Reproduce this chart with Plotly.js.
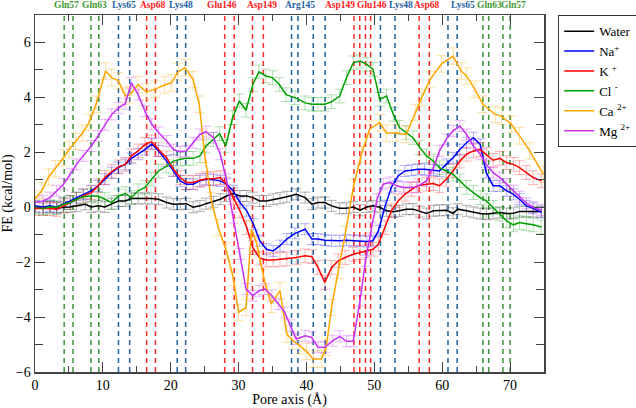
<!DOCTYPE html>
<html>
<head>
<meta charset="utf-8">
<script src="https://cdn.plot.ly/plotly-3.0.1.min.js"></script>
<style>html,body{margin:0;padding:0;background:#fff;}#chart{width:636px;height:408px;}</style>
</head>
<body>
<div id="chart"></div>
<script>
// ---- data ----
const seriesNames = ['Water', 'Na<sup>+</sup>', 'K <sup>+</sup>', 'Cl <sup>-</sup>', 'Ca <sup>2+</sup>', 'Mg <sup>2+</sup>'];

const xWater = [0,1.2,2.2,3.2,4.2,5.2,6.1,7.4,8.3,9.3,10.3,11.3,12.3,13.3,14.2,15.2,16.2,17.2,18.2,19.4,20.4,21.4,22.3,23.3,24.3,25.2,26.3,27.3,28.2,29.2,30.2,31.2,32.1,33.1,34.1,35.1,36.1,37.1,38.5,39.8,40.8,41.7,42.7,43.7,44.9,45.9,46.9,47.9,48.9,49.8,50.8,51.8,52.8,53.7,54.7,55.7,56.7,57.7,58.7,59.6,60.6,61.6,62.3,63.6,64.6,65.6,66.5,67.5,68.5,69.5,70.5,71.4,72.4,73.4,74.6];
const yWater = [0,-0.05,0.01,-0.04,0,0.01,0.05,0.11,0.01,0.05,0.01,0.13,0.23,0.23,0.32,0.32,0.32,0.32,0.29,0.17,0.11,0.11,0.13,0.0,0.05,0.13,0.2,0.29,0.41,0.5,0.41,0.41,0.35,0.23,0.23,0.29,0.33,0.38,0.47,0.35,0.11,0.17,0.17,0.05,-0.04,-0.04,0.01,-0.11,0.01,0.05,0,-0.13,-0.16,-0.13,-0.07,-0.07,-0.16,-0.23,-0.13,-0.11,-0.11,-0.22,-0.07,-0.13,-0.19,-0.23,-0.25,-0.23,-0.19,-0.23,-0.22,-0.16,-0.16,-0.16,-0.16];

const xNa = [0,1.2,2.2,3.2,4.2,5.2,6.1,7.1,8.3,9.3,10.3,11.3,12.3,13.3,14.2,15.2,16.2,17.2,18.2,19.4,20.4,21.4,22.3,23.3,24.3,25.2,26.3,27.3,28.2,29.2,30.2,31.2,32.2,33.1,34.1,35.1,36.1,37.1,38.3,39.8,40.8,41.7,42.7,43.7,44.9,45.9,46.9,47.9,48.9,49.8,50.6,51.6,52.5,53.5,54.5,55.5,56.4,57.4,58.7,59.6,60.6,61.6,62.6,63.6,64.6,65.6,66.5,67.5,68.5,69.5,70.5,71.4,72.4,73.4,74.6];
const yNa = [0.05,0.01,0.05,0.01,0.13,0.23,0.35,0.47,0.6,0.78,1.02,1.26,1.44,1.56,1.78,1.93,2.1,2.3,2.05,1.68,1.32,0.96,0.84,0.84,0.96,1.02,1.0,0.96,0.84,0.6,0.17,-0.13,-0.62,-1.22,-1.53,-1.59,-1.4,-1.16,-0.95,-0.8,-1.16,-1.16,-1.2,-1.22,-1.22,-1.2,-1.22,-1.22,-1.25,-1.22,-0.86,0.05,0.72,1.14,1.32,1.35,1.38,1.38,1.35,1.32,1.56,1.8,2.1,2.35,2.53,2.29,1.26,0.78,0.78,0.6,0.47,0.29,0.05,-0.04,-0.19];

const xK = [0,1.2,2.2,3.2,4.2,5.2,6.1,7.1,8.3,9.3,10.3,11.3,12.3,13.3,14.2,15.2,16.2,17.2,18.2,19.4,20.4,21.4,22.3,23.3,24.3,25.2,26.3,27.3,28.2,29.2,30.2,31.2,32.1,33.1,34.1,35.1,36.1,37.1,38.5,39.8,40.8,41.7,42.7,43.7,44.7,45.7,46.9,47.9,48.9,49.8,50.6,51.6,52.5,53.5,54.5,55.5,56.4,57.7,58.7,59.6,60.6,61.6,62.6,63.6,64.6,65.6,66.5,67.5,68.5,69.5,70.5,71.4,72.4,73.4,74.6];
const yK = [-0.05,-0.05,-0.05,-0.08,0.05,0.17,0.29,0.41,0.53,0.78,1.08,1.3,1.47,1.56,1.87,2.05,2.29,2.38,2.1,1.8,1.38,1.08,0.9,0.9,0.98,1.04,1.04,1.08,0.84,0.35,-0.13,-0.74,-1.47,-1.85,-1.92,-1.92,-1.9,-1.88,-1.83,-1.77,-1.8,-2.19,-2.74,-2.19,-1.95,-1.83,-1.71,-1.65,-1.59,-1.53,-1.35,-0.74,-0.13,0.23,0.47,0.65,0.78,0.84,0.86,0.78,1.02,1.32,1.68,1.93,2.05,2.1,1.93,1.71,1.78,1.62,1.56,1.44,1.26,1.08,0.96];

const xCl = [0,1.2,2.2,3.2,4.2,5.2,6.1,7.1,8.3,9.3,10.3,11.3,12.3,13.3,14.2,15.2,16.2,17.2,18.2,19.4,20.4,21.4,22.3,23.3,24.3,25.2,26.3,27.2,28.1,29.1,30.1,31.1,32.1,33,34,35,36,37,38.3,39.8,40.8,41.7,42.7,43.7,44.9,45.9,46.9,47.9,48.9,49.8,50.8,51.8,52.8,53.7,54.7,55.7,56.7,57.7,58.7,59.6,60.6,61.6,62.6,63.6,64.6,65.6,66.5,67.5,68.5,69.5,70.5,71.4,72.4,73.4,74.6];
const yCl = [0.01,-0.04,0.01,0.0,0.11,0.17,0.29,0.38,0.41,0.41,0.29,0.17,0.41,0.5,0.35,0.6,0.72,1.02,1.32,1.5,1.68,1.75,1.78,1.78,1.87,2.23,2.47,2.68,2.23,3.26,3.87,3.53,4.47,4.93,4.78,4.72,4.47,4.1,3.99,3.8,3.75,3.75,3.75,3.84,4.05,4.72,5.26,5.32,5.2,5.02,3.93,4.05,3.38,2.9,2.72,2.53,2.17,1.87,1.68,1.44,1.32,1.2,0.96,0.72,0.53,0.35,0.23,-0.01,-0.25,-0.5,-0.64,-0.56,-0.6,-0.64,-0.72];

const xCa = [0,1,2,3,4.2,5,6,7,8,9,10.4,11.3,12.3,13.3,14,15.2,16.4,17.7,19.1,20.1,21.1,22.1,23.3,24.2,25,26,27,28.2,29.2,30,31.1,31.9,32.7,33.7,34.8,36.1,37.1,38,39,40,41,42.2,42.9,43.7,44.7,45.7,46.9,48.1,49.3,50.8,51.8,53.3,54.7,56,57,58.2,59.9,61.6,62.8,63.6,64.8,66,67.8,68.7,70.2,71.4,72.9,74.9];
const yCa = [0.3,0.6,1.1,1.4,1.8,2.1,2.4,2.7,3.1,3.75,4.96,4.72,4.6,4.05,4.1,4.47,4.2,4.3,4.45,4.53,4.93,5.08,4.65,3.75,1.93,0.23,-0.74,-1.59,-2.56,-3.83,-3.65,-0.8,-1.35,-2.56,-3.53,-3.04,-4.62,-4.86,-5.04,-5.25,-5.53,-5.53,-5.1,-3.65,-2.3,-1.0,0.72,1.93,2.84,3.08,2.7,2.7,2.65,3.45,4.0,4.65,5.22,5.5,4.96,4.78,4.3,3.75,3.38,3.32,3.02,2.6,2.05,1.2];

const xMg = [0,1.2,2.2,3.2,4.2,5.2,6.1,7.1,8.3,9.3,10.3,11.3,12.3,13.3,14.2,15.2,16.2,17.2,18.2,19.4,20.4,21.4,22.3,23.3,24.3,25.2,26.3,27.3,28.2,29.2,30.2,31.1,32.1,33,33.9,34.9,35.9,36.8,37.6,38.5,39.8,40.8,41.7,42.7,43.9,44.9,45.9,46.9,47.9,48.7,49.6,50.4,51.3,52.3,53.3,54.3,55.2,56.2,57.7,58.7,59.6,60.6,61.6,62.6,63.6,64.6,65.6,66.5,67.5,68.5,69.5,70.5,71.4,72.4,73.4,74.6];
const yMg = [0.17,0.23,0.35,0.6,0.84,1.2,1.56,1.87,2.23,2.6,3.0,3.38,3.62,3.77,4.53,4.1,3.5,3.02,2.72,2.41,2.1,2.02,2.05,2.35,2.65,2.75,2.53,1.93,1.02,-0.38,-1.7,-2.98,-3.22,-3.04,-2.98,-3.22,-3.53,-3.83,-4.3,-4.8,-4.68,-4.74,-5.1,-5.1,-4.86,-4.7,-4.88,-4.88,-3.4,-1.95,-0.74,0.29,0.84,0.9,0.78,0.72,0.72,0.74,0.96,1.44,2.05,2.47,2.78,2.96,2.65,2.23,1.93,1.56,1.26,1.08,0.84,0.6,0.38,0.15,0.0,-0.1];

// approximate error bar half-heights per series
const errVals = [0.2, 0.2, 0.25, 0.25, 0.3, 0.2];

// residue positions (pore axis, Å)
const greenLines = [4.3, 5.6, 8.25, 9.4, 66.0, 66.85, 68.95, 70.0];
const blueLines = [12.3, 13.95, 20.95, 22.2, 37.8, 38.75, 41.0, 42.75, 50.9, 53.05, 60.85, 62.2];
const redLines = [16.45, 17.75, 27.95, 29.35, 32.05, 33.65, 47.0, 47.85, 48.7, 49.45, 56.6, 58.1];

const residueNames = ['Gln57','Gln63','Lys65','Asp68','Lys48','Glu146','Asp149','Arg145','Asp149','Glu146','Lys48','Asp68','Lys65','Gln63','Gln57'];
const residueX = [4.6, 8.7, 13.1, 17.4, 21.5, 27.5, 33.4, 39.0, 45.0, 49.6, 53.9, 57.7, 63.0, 66.9, 70.5];
const residueType = ['g','g','b','r','b','r','r','b','r','r','b','r','b','g','g'];

// ---- styling ----
const lineColors = ['#000000', '#0000ff', '#ff0000', '#00a000', '#ffa500', '#c832f5'];
const errColors = ['rgba(0,0,0,0.3)', 'rgba(0,0,255,0.3)', 'rgba(255,0,0,0.3)', 'rgba(0,160,0,0.3)', 'rgba(255,165,0,0.35)', 'rgba(200,50,245,0.35)'];
const dashColors = {g: '#3a913a', b: '#1f62a3', r: '#ff2a2a'};
const textColors = {g: '#3f9a35', b: '#1f62a3', r: '#ff2020'};

const xs = [xWater, xNa, xK, xCl, xCa, xMg];
const ys = [yWater, yNa, yK, yCl, yCa, yMg];

const traces = [];
for (let i = 0; i < 6; i++) {
  traces.push({
    x: xs[i], y: ys[i], type: 'scatter', mode: 'markers',
    marker: {size: 1, opacity: 0},
    error_y: {type: 'constant', value: errVals[i], color: errColors[i], thickness: 1, width: 5},
    showlegend: false, hoverinfo: 'skip'
  });
}
for (let i = 0; i < 6; i++) {
  traces.push({
    x: xs[i], y: ys[i], type: 'scatter', mode: 'lines', name: seriesNames[i],
    line: {color: lineColors[i], width: 1.5}
  });
}

const shapes = [];
function addLines(arr, key) {
  arr.forEach(v => shapes.push({
    type: 'line', xref: 'x', yref: 'paper', x0: v, x1: v, y0: 0, y1: 1,
    line: {color: dashColors[key], width: 1.5, dash: '5px,4px'}, layer: 'below'
  }));
}
addLines(greenLines, 'g');
addLines(blueLines, 'b');
addLines(redLines, 'r');

const annotations = residueNames.map((n, i) => ({
  text: n, x: residueX[i], xref: 'x', y: 1.027, yref: 'paper',
  xanchor: 'center', yanchor: 'middle', showarrow: false,
  font: {family: 'Liberation Serif', size: 9.5, color: textColors[residueType[i]], weight: 'bold'}
}));

const axisFont = {family: 'Liberation Serif', size: 14, color: '#000'};

const layout = {
  width: 636, height: 408,
  margin: {l: 35, r: 92, t: 15, b: 36, autoexpand: false},
  paper_bgcolor: '#fff', plot_bgcolor: '#fff',
  font: axisFont,
  showlegend: true,
  legend: {
    x: 1.0275, xanchor: 'left', y: 1.0, yanchor: 'top',
    bordercolor: '#333', borderwidth: 1.2, bgcolor: '#fff',
    font: {family: 'Liberation Serif', size: 13, color: '#000'},
    itemwidth: 30, tracegroupgap: 0
  },
  xaxis: {
    range: [0, 75], dtick: 10, tick0: 0,
    ticks: 'inside', ticklen: 10, tickwidth: 1, tickcolor: '#444',
    minor: {dtick: 5, ticks: 'inside', ticklen: 6, tickcolor: '#444'},
    showline: true, linecolor: '#444', linewidth: 1.5, mirror: 'allticks',
    showgrid: false, zeroline: false,
    tickfont: axisFont,
    title: {text: 'Pore axis (Å)', font: axisFont, standoff: 2}
  },
  yaxis: {
    range: [-6, 7], dtick: 2, tick0: 0,
    ticks: 'inside', ticklen: 10, tickwidth: 1, tickcolor: '#444',
    minor: {dtick: 1, ticks: 'inside', ticklen: 8, tickcolor: '#444'},
    showline: true, linecolor: '#444', linewidth: 1.5, mirror: 'allticks',
    showgrid: false, zeroline: false,
    tickfont: axisFont,
    title: {text: 'FE (kcal/mol)', font: axisFont, standoff: 6}
  },
  shapes: shapes,
  annotations: annotations
};

Plotly.newPlot('chart', traces, layout, {displayModeBar: false, staticPlot: true});
</script>
</body>
</html>
